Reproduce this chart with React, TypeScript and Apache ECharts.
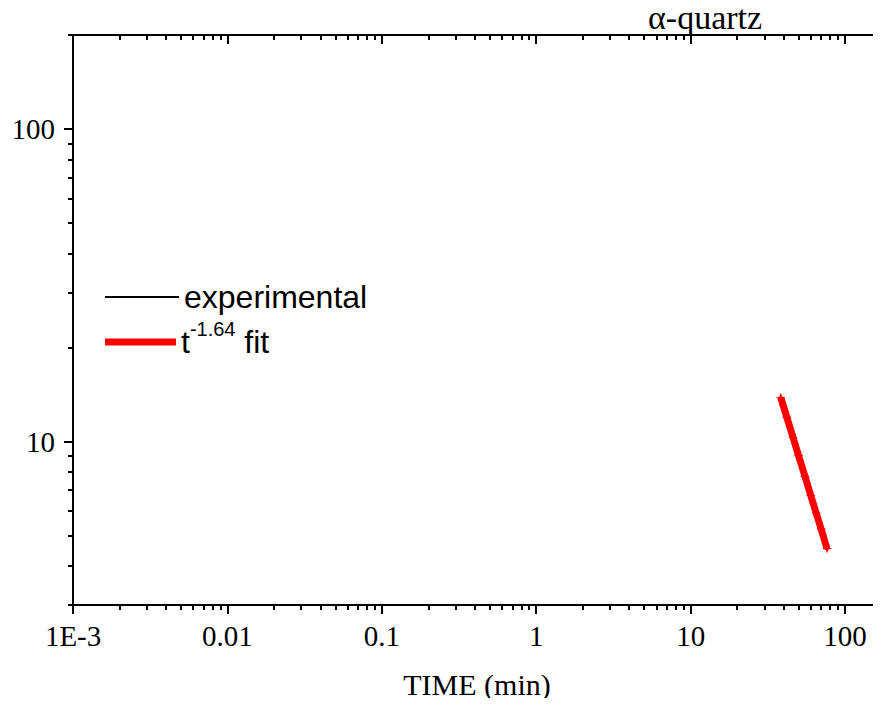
import React, { useEffect, useRef } from "react";
import * as echarts from "echarts";

// ---- data ----
const fitTime = [38.4, 42, 46, 50, 55, 60, 65, 70, 76.4];
const fitValue = [13.8, 11.95, 10.32, 9.03, 7.74, 6.72, 5.91, 5.25, 4.55];
const experimentalTime: number[] = [];
const experimentalValue: number[] = [];

const xMajorTicks = [0.001, 0.01, 0.1, 1, 10, 100];
const yMajorTicks = [10, 100];
const minorMultipliers = [2, 3, 4, 5, 6, 7, 8, 9];
const xDecades = [0.001, 0.01, 0.1, 1, 10, 100];
const yDecades = [1, 10, 100];

const xMin = 0.000999;
const xMax = 171;
const yMin = 2.999;
const yMax = 200;

const titleText = "α-quartz";
const xAxisName = "TIME (min)";
const expName = "experimental";
const fitName = "t-1.64 fit";

const serif = "Liberation Serif";
const sans = "Liberation Sans";

function minorValues(decades: number[], lo: number, hi: number) {
  const out: number[] = [];
  decades.forEach((d) =>
    minorMultipliers.forEach((m) => {
      const v = +(d * m).toPrecision(6);
      if (v >= lo && v <= hi) out.push(v);
    })
  );
  return out;
}

export default function App() {
  const ref = useRef<HTMLDivElement>(null);

  useEffect(() => {
    if (!ref.current) return;
    const chart = echarts.init(ref.current, null, { renderer: "svg" });
    const xMinor = minorValues(xDecades, xMin, xMax);
    const yMinor = minorValues(yDecades, yMin, yMax);

    const axisLine = { show: true, lineStyle: { color: "#000", width: 2 } };
    const noLine = { show: false };
    const tickStyle = { color: "#000", width: 2 };

    const baseX = {
      type: "log" as const,
      min: xMin,
      max: xMax,
      logBase: 10,
      splitLine: { show: false },
      minorTick: { show: false },
      minorSplitLine: { show: false },
    };
    const baseY = {
      type: "log" as const,
      min: yMin,
      max: yMax,
      logBase: 10,
      splitLine: { show: false },
      minorTick: { show: false },
      minorSplitLine: { show: false },
    };

    const fmtX = (v: number) => {
      if (Math.abs(v - 0.001) < 1e-9) return "1E-3";
      return String(+v.toPrecision(6));
    };

    chart.setOption({
      animation: false,
      backgroundColor: "#fff",
      title: {
        text: titleText,
        left: 648,
        top: 0,
        padding: 0,
        textStyle: { fontFamily: serif, fontSize: 34, fontWeight: "normal", color: "#000" },
      },
      grid: { left: 73, right: 0, top: 35, bottom: 101, containLabel: false },
      legend: [
        {
          data: [{ name: expName }],
          left: 105,
          top: 281,
          padding: 0,
          icon: "rect",
          itemWidth: 74,
          itemHeight: 2,
          selectedMode: false,
          itemStyle: { color: "#000", borderWidth: 0 },
          textStyle: { fontFamily: sans, fontSize: 32, color: "#000", lineHeight: 32 },
        },
        {
          data: [{ name: fitName }],
          left: 105,
          top: 319,
          padding: 0,
          icon: "rect",
          itemWidth: 71,
          itemHeight: 7,
          selectedMode: false,
          itemStyle: { color: "#ff0000", borderWidth: 0 },
          formatter: () => "{m|t}{s|-1.64}{m| fit}",
          textStyle: {
            fontFamily: sans,
            fontSize: 32,
            color: "#000",
            rich: {
              m: { fontFamily: sans, fontSize: 32, lineHeight: 46, color: "#000" },
              s: { fontFamily: sans, fontSize: 20, lineHeight: 19, verticalAlign: "top", color: "#000" },
            },
          },
        },
      ],
      xAxis: [
        {
          ...baseX,
          position: "bottom",
          name: xAxisName,
          nameLocation: "middle",
          nameGap: 64,
          nameTextStyle: { fontFamily: serif, fontSize: 30, color: "#000" },
          axisLine,
          axisTick: { show: true, inside: false, length: 9, lineStyle: tickStyle, customValues: xMajorTicks },
          axisLabel: {
            show: true,
            margin: 16,
            fontFamily: serif,
            fontSize: 29,
            color: "#000",
            customValues: xMajorTicks,
            formatter: fmtX,
            showMinLabel: true,
            showMaxLabel: true,
          },
        },
        {
          ...baseX,
          position: "bottom",
          axisLine: noLine,
          axisTick: { show: true, inside: false, length: 5, lineStyle: tickStyle, customValues: xMinor },
          axisLabel: { show: false },
        },
        {
          ...baseX,
          position: "top",
          axisLine,
          axisTick: { show: true, inside: true, length: 9, lineStyle: tickStyle, customValues: xMajorTicks },
          axisLabel: { show: false },
        },
        {
          ...baseX,
          position: "top",
          axisLine: noLine,
          axisTick: { show: true, inside: true, length: 5, lineStyle: tickStyle, customValues: xMinor },
          axisLabel: { show: false },
        },
      ],
      yAxis: [
        {
          ...baseY,
          position: "left",
          axisLine,
          axisTick: { show: true, inside: false, length: 9, lineStyle: tickStyle, customValues: yMajorTicks },
          axisLabel: {
            show: true,
            margin: 18,
            fontFamily: serif,
            fontSize: 29,
            color: "#000",
            customValues: yMajorTicks,
            formatter: (v: number) => String(+v.toPrecision(6)),
          },
        },
        {
          ...baseY,
          position: "left",
          axisLine: noLine,
          axisTick: { show: true, inside: false, length: 5, lineStyle: tickStyle, customValues: yMinor },
          axisLabel: { show: false },
        },
      ],
      series: [
        {
          name: expName,
          type: "line",
          xAxisIndex: 0,
          yAxisIndex: 0,
          data: experimentalTime.map((t, i) => [t, experimentalValue[i]]),
          symbol: "none",
          lineStyle: { color: "#000", width: 2 },
          itemStyle: { color: "#000" },
        },
        {
          name: fitName,
          type: "line",
          xAxisIndex: 0,
          yAxisIndex: 0,
          data: fitTime.map((t, i) => [t, fitValue[i]]),
          symbol:
            "path://M0,-5 L1.3,-1.3 L5,0 L1.3,1.3 L0,5 L-1.3,1.3 L-5,0 L-1.3,-1.3 Z",
          symbolSize: 10,
          lineStyle: { color: "#ff0000", width: 7 },
          itemStyle: { color: "#ff0000" },
        },
      ],
    });

    return () => chart.dispose();
  }, []);

  return <div ref={ref} style={{ width: 881, height: 706, margin: -8 }} />;
}
